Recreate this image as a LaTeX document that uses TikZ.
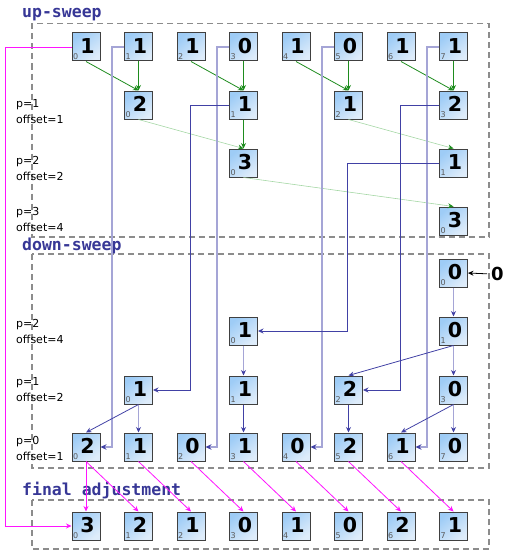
\documentclass[tikz,border=0pt]{standalone}
\usepackage{fontspec}
\usetikzlibrary{arrows.meta,calc}
\newfontfamily\dvs{DejaVu Sans}
\newfontfamily\dvm{DejaVu Sans Mono}

\definecolor{cellA}{RGB}{158,204,246}
\definecolor{cellB}{RGB}{222,236,250}
\definecolor{grD}{RGB}{30,140,30}
\definecolor{grL}{RGB}{165,215,165}
\definecolor{navy}{RGB}{65,65,165}
\definecolor{lav}{RGB}{165,165,214}
\definecolor{mag}{RGB}{255,20,255}
\definecolor{ttl}{RGB}{55,55,150}
\definecolor{frm}{RGB}{140,140,140}

\tikzset{
  cell/.style={draw=black!75, line width=1pt, minimum size=28pt, inner sep=0pt,
    top color=cellA, bottom color=cellB, shading angle=40,
    font=\dvs\bfseries\fontsize{20.5}{20.5}\selectfont,
    text height=13.5pt, text depth=1.5pt},
  idx/.style={anchor=base west, inner sep=0pt, text=black!65,
    font=\dvs\fontsize{8}{8}\selectfont},
  lbl/.style={anchor=base west, inner sep=0pt, align=left,
    font=\dvs\fontsize{11}{16}\selectfont},
  ttlnode/.style={anchor=base west, inner sep=0pt, text=ttl,
    font=\dvm\bfseries\fontsize{16.5}{16.5}\selectfont},
  frame/.style={draw=frm, line width=1.4pt, dash pattern=on 6pt off 4pt},
  upd/.style={draw=grD, line width=0.8pt, -{Stealth[length=5.5pt,width=5pt,color=grD]}},
  upl/.style={draw=grL, line width=0.6pt, -{Stealth[length=5.5pt,width=5pt,color=grD]}},
  lavthick/.style={draw=lav, line width=2pt, -{Stealth[length=6pt,width=5.5pt,color=navy]}},
  lavthin/.style={draw=lav, line width=0.9pt, -{Stealth[length=5.5pt,width=5pt,color=navy]}},
  navyline/.style={draw=navy, line width=0.8pt, -{Stealth[length=5.5pt,width=5pt,color=navy]}},
  magline/.style={draw=mag, line width=0.8pt, -{Stealth[length=5.5pt,width=5pt,color=mag]}},
}

% one array cell: name, x, y, value, index
\newcommand\cellnode[5]{%
  \node[cell] (#1) at (#2,#3) {\hspace{3pt}#4};
  \node[idx] (#1-i) at ([xshift=1.5pt,yshift=2pt]#1.south west) {#5};}

\begin{document}
\begin{tikzpicture}[x=1pt,y=-1pt]
\useasboundingbox (0,0) rectangle (504,551);

% section frames and titles
\draw[frame] (32,23.5) rectangle (489,237);
\draw[frame] (32,254) rectangle (489,468);
\draw[frame] (32,500) rectangle (489,549);
\node[ttlnode] (t-up) at (22,18) {up-sweep};
\node[ttlnode] (t-down) at (22,250) {down-sweep};
\node[ttlnode] (t-fin) at (22,495) {final adjustment};

% step labels (anchored on the baseline of the second line)
\node[lbl] (l-u1) at (16,123) {p=1\\offset=1};
\node[lbl] (l-u2) at (16,180) {p=2\\offset=2};
\node[lbl] (l-u3) at (16,231) {p=3\\offset=4};
\node[lbl] (l-d1) at (16,343) {p=2\\offset=4};
\node[lbl] (l-d2) at (16,401) {p=1\\offset=2};
\node[lbl] (l-d3) at (16,460) {p=0\\offset=1};

% up-sweep cells
\foreach \v [count=\i from 0] in {1,1,1,0,1,0,1,1}
  {\pgfmathsetmacro\cx{86+52.5*\i}\cellnode{u0-\i}{\cx}{47}{\v}{\i}}
\foreach \v [count=\i from 0] in {2,1,1,2}
  {\pgfmathsetmacro\cx{86+52.5*(2*\i+1)}\cellnode{u1-\i}{\cx}{105}{\v}{\i}}
\foreach \v [count=\i from 0] in {3,1}
  {\pgfmathsetmacro\cx{86+52.5*(4*\i+3)}\cellnode{u2-\i}{\cx}{163}{\v}{\i}}
\cellnode{u3-0}{453.5}{221}{3}{0}

% down-sweep cells
\cellnode{dn0-0}{453.5}{273}{0}{0}
\foreach \v [count=\i from 0] in {1,0}
  {\pgfmathsetmacro\cx{86+52.5*(4*\i+3)}\cellnode{dn1-\i}{\cx}{331}{\v}{\i}}
\foreach \v [count=\i from 0] in {1,1,2,0}
  {\pgfmathsetmacro\cx{86+52.5*(2*\i+1)}\cellnode{dn2-\i}{\cx}{390}{\v}{\i}}
\foreach \v [count=\i from 0] in {2,1,0,1,0,2,1,0}
  {\pgfmathsetmacro\cx{86+52.5*\i}\cellnode{dn3-\i}{\cx}{447}{\v}{\i}}

% final cells
\foreach \v [count=\i from 0] in {3,2,1,0,1,0,2,1}
  {\pgfmathsetmacro\cx{86+52.5*\i}\cellnode{fin-\i}{\cx}{526}{\v}{\i}}

% injected zero
\node[inner sep=0pt, font=\dvs\bfseries\fontsize{18}{18}\selectfont] (zin) at (497.5,274) {0};
\draw[-{Stealth[length=5.5pt,width=5pt]}, line width=0.8pt, shorten <=4pt] (zin.west) -- (dn0-0.east);

% up-sweep sums
\foreach \k in {0,1,2,3}{
  \pgfmathtruncatemacro\a{2*\k}\pgfmathtruncatemacro\b{2*\k+1}
  \draw[upd] (u0-\a.south) -- (u1-\k.north);
  \draw[upd] (u0-\b.south) -- (u1-\k.north);
}
\draw[upl] (u1-0.south) -- (u2-0.north);
\draw[upd] (u1-1.south) -- (u2-0.north);
\draw[upl] (u1-2.south) -- (u2-1.north);
\draw[upl] (u2-0.south) -- (u3-0.north);

% saved values carried into the down-sweep
\draw[lavthick] (u0-1.west) -- ++(-12.5,0) |- (dn3-0.east);
\draw[lavthick] (u0-3.west) -- ++(-12.5,0) |- (dn3-2.east);
\draw[lavthick] (u0-5.west) -- ++(-12.5,0) |- (dn3-4.east);
\draw[lavthick] (u0-7.west) -- ++(-12.5,0) |- (dn3-6.east);
\draw[navyline] (u1-1.west) -- ++(-38.5,0) |- (dn2-0.east);
\draw[navyline] (u1-3.west) -- ++(-38.5,0) |- (dn2-2.east);
\draw[navyline] (u2-1.west) -- ++(-91.5,0) |- (dn1-0.east);

% down-sweep
\draw[lavthin] (dn0-0.south) -- (dn1-1.north);
\draw[lavthin] (dn1-0.south) -- (dn2-1.north);
\draw[navyline] (dn1-1.south) -- (dn2-2.north);
\draw[lavthin] (dn1-1.south) -- (dn2-3.north);
\draw[navyline] (dn2-0.south) -- (dn3-0.north);
\draw[lavthin] (dn2-0.south) -- (dn3-1.north);
\draw[navyline] (dn2-1.south) -- (dn3-3.north);
\draw[navyline] (dn2-2.south) -- (dn3-5.north);
\draw[navyline] (dn2-3.south) -- (dn3-6.north);
\draw[lavthin] (dn2-3.south) -- (dn3-7.north);

% final adjustment
\draw[magline] (u0-0.west) -- ++(-66,0) |- (fin-0.west);
\draw[magline] (dn3-0.south) -- (fin-0.north);
\foreach \k in {0,...,6}{
  \pgfmathtruncatemacro\n{\k+1}
  \draw[magline] (dn3-\k.south) -- (fin-\n.north);
}
\end{tikzpicture}
\end{document}
